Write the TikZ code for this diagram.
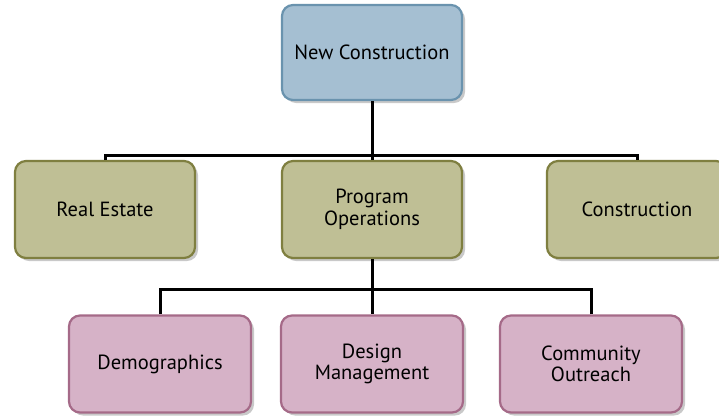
\documentclass[tikz,border=0pt]{standalone}
\usepackage{fontspec}
\setmainfont{PT Sans}
\usetikzlibrary{shadows}
\definecolor{bluefill}{HTML}{A5BFD2}
\definecolor{blueline}{HTML}{6A93AE}
\definecolor{olivefill}{HTML}{BFBF95}
\definecolor{oliveline}{HTML}{7F7F40}
\definecolor{pinkfill}{HTML}{D6B2C7}
\definecolor{pinkline}{HTML}{A56A88}
\begin{document}
\begin{tikzpicture}[x=1pt,y=-1pt,
  box/.style={rectangle, rounded corners=11pt, line width=2.2pt, minimum width=180pt,
    align=center, font=\fontsize{20.5}{21.5}\selectfont, text=black,
    drop shadow={shadow xshift=3pt, shadow yshift=-3pt, opacity=0.35, fill=black!60}},
  topbox/.style={box, fill=bluefill, draw=blueline, minimum height=95pt},
  midbox/.style={box, fill=olivefill, draw=oliveline, minimum height=97pt},
  lowbox/.style={box, fill=pinkfill, draw=pinkline, minimum height=97pt, minimum width=182pt},
  conn/.style={line width=3pt, black}]
\useasboundingbox (0,0) rectangle (719,418);
\fill[white] (0,0) rectangle (719,418);
\coordinate (j1) at (372,155);
\coordinate (j2) at (372,289);
\node[topbox] (top) at (372,52.5) {New Construction};
\node[midbox] (re) at (105,209.5) {Real Estate};
\node[midbox] (po) at (372,209.5) {Program\\Operations};
\node[midbox] (con) at (637,209.5) {Construction};
\node[lowbox] (dem) at (160,364) {Demographics};
\node[lowbox] (des) at (372,364) {Design\\Management};
\node[lowbox] (com) at (591,364) {Community\\Outreach};
\draw[conn] (top.south) -- (j1);
\draw[conn] (re.north) |- (j1);
\draw[conn] (con.north) |- (j1);
\draw[conn] (j1) -- (po.north);
\draw[conn] (po.south) -- (j2);
\draw[conn] (dem.north) |- (j2);
\draw[conn] (com.north) |- (j2);
\draw[conn] (j2) -- (des.north);
\end{tikzpicture}
\end{document}
